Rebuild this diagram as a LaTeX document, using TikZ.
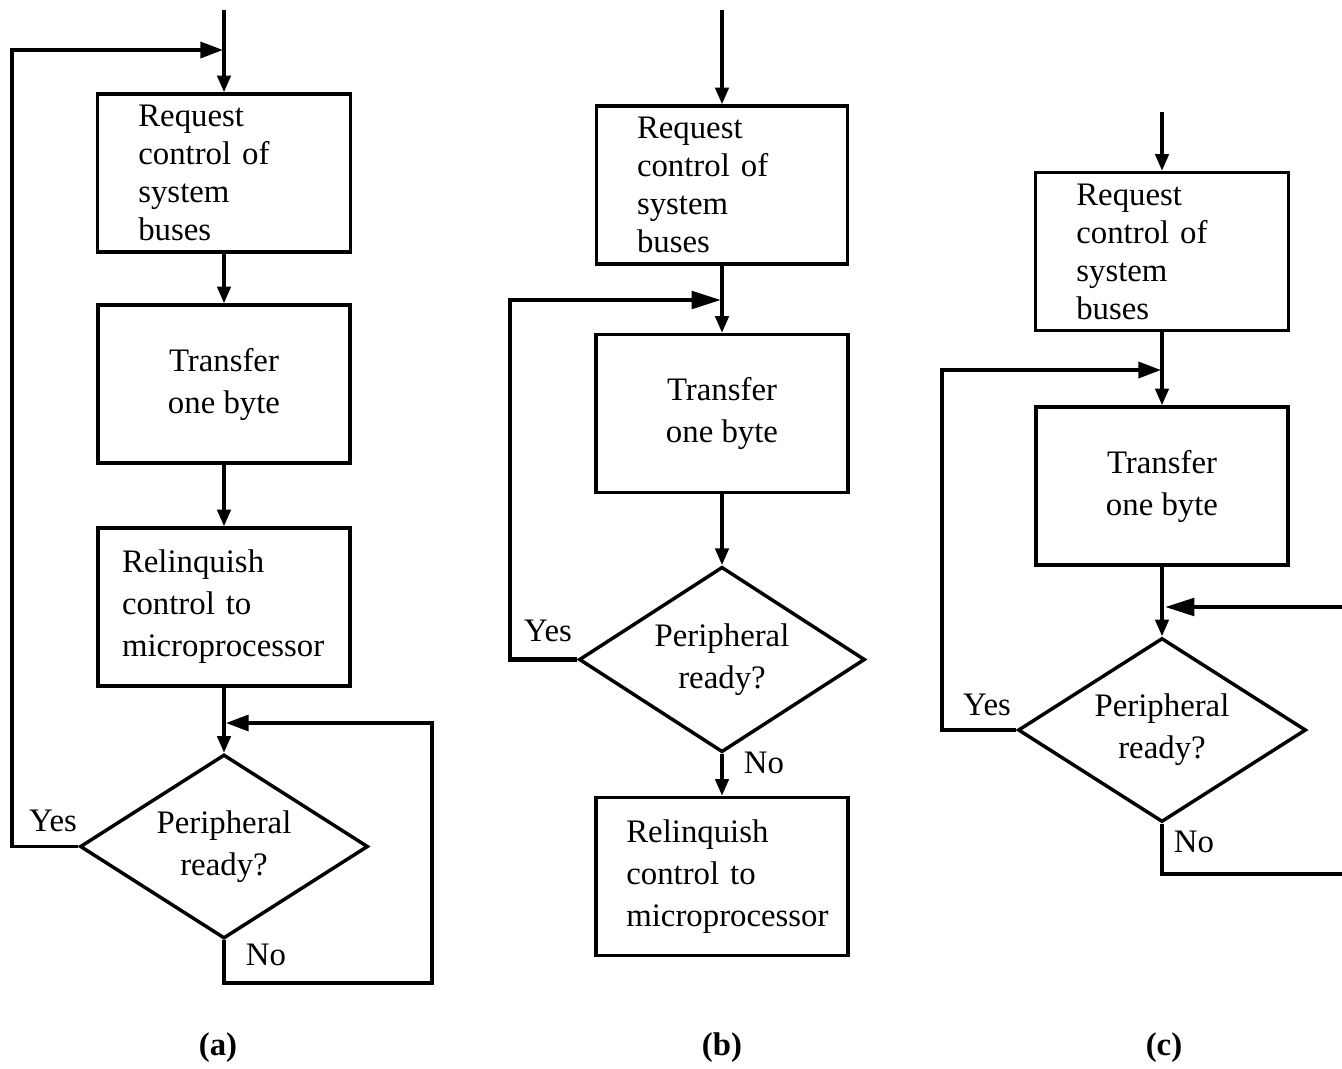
\documentclass[tikz,border=0pt]{standalone}
\usepackage{fontspec}
\setmainfont{Liberation Serif}
\usetikzlibrary{arrows.meta,shapes.geometric}
\begin{document}
\begin{tikzpicture}[x=0.75pt,y=-0.75pt,
  every node/.style={font=\fontsize{24.6}{31.5}\selectfont},
  box/.style={draw,line width=2.6pt,rectangle,minimum height=118.5pt,inner ysep=0pt},
  reqbox/.style={box,minimum width=189.5pt,inner xsep=30.5pt,text width=128.5pt,align=left,
    font=\fontsize{24.6}{28.5}\selectfont},
  xferbox/.style={box,minimum width=189pt,align=center},
  relbox/.style 2 args={box,minimum width=189pt,inner xsep=#1,text width=#2,align=left},
  decision/.style={draw,line width=2.6pt,diamond,aspect=1.57,inner sep=0pt,
    minimum width=216pt,minimum height=138pt,align=center},
  lbl/.style={inner sep=0pt},
  captext/.style={inner sep=0pt,font=\fontsize{24.6}{28}\selectfont\bfseries},
  flow/.style={line width=2.6pt,-{Triangle[length=12.5pt,width=10pt]}},
  back/.style={line width=2.6pt,-{Triangle[length=17pt,width=12pt]}},
  heavy/.style={line width=3.2pt,-{Triangle[length=22pt,width=13pt]}},
  heavywire/.style={line width=3.2pt}
]
\fill[white] (0,0) rectangle (1342,1068);
\useasboundingbox (0,0) rectangle (1342,1068);

% ---------------- (a) ----------------
\node[reqbox] (a1) at (224,173) {Request\\control of\\system\\buses};
\node[xferbox] (a2) at (224,384) {Transfer\\one byte};
\node[relbox={18pt}{153pt}] (a3) at (224,607) {Relinquish\\control to\\microprocessor};
\node[decision] (a4) at (224,846.5) {Peripheral\\ready?};
\coordinate (atop) at (224,10);
\coordinate (ajoin) at (223,50);
\coordinate (aleft) at (12,50);
\coordinate (ajoin2) at (226,723);
\coordinate (aright) at (432,983);
\draw[flow] (atop) -- (a1.north);
\draw[flow] (a1.south) -- (a2.north);
\draw[flow] (a2.south) -- (a3.north);
\draw[flow] (a3.south) -- (a4.north);
\draw[back] (a4.west) -| (aleft) -- (ajoin);
\draw[back] (a4.south) |- (aright) |- (ajoin2);
\node[lbl] (ayes) at (53,821) {Yes};
\node[lbl] (ano) at (266,955) {No};
\node[captext] (acap) at (218,1048) {(a)};

% ---------------- (b) ----------------
\node[reqbox,minimum width=188.5pt,text width=127.5pt] (b1) at (722,185) {Request\\control of\\system\\buses};
\node[xferbox] (b2) at (722,413.5) {Transfer\\one byte};
\node[decision,minimum width=214.5pt,minimum height=139pt] (b3) at (722,659.5) {Peripheral\\ready?};
\node[relbox={22.5pt}{143.5pt}] (b4) at (722,876.5) {Relinquish\\control to\\microprocessor};
\coordinate (btop) at (722,10);
\coordinate (bjoin) at (721,300);
\coordinate (bleft) at (510,300);
\draw[flow] (btop) -- (b1.north);
\draw[flow] (b1.south) -- (b2.north);
\draw[flow] (b2.south) -- (b3.north);
\draw[flow] (b3.south) -- (b4.north);
\draw[heavy] (b3.west) -| (bleft) -- (bjoin);
\node[lbl] (byes) at (548,631) {Yes};
\node[lbl] (bno) at (764,763) {No};
\node[captext] (bcap) at (722,1048) {(b)};

% ---------------- (c) ----------------
\node[reqbox] (c1) at (1162,251.5) {Request\\control of\\system\\buses};
\node[xferbox] (c2) at (1162,486) {Transfer\\one byte};
\node[decision] (c3) at (1162,730) {Peripheral\\ready?};
\coordinate (ctop) at (1162,112);
\coordinate (cjoin) at (1161,370);
\coordinate (cleft) at (942,370);
\coordinate (cjoin2) at (1165,607);
\coordinate (cedge1) at (1342,607);
\coordinate (cedge2) at (1342,874);
\draw[flow] (ctop) -- (c1.north);
\draw[flow] (c1.south) -- (c2.north);
\draw[flow] (c2.south) -- (c3.north);
\draw[back] (c3.west) -| (cleft) -- (cjoin);
\draw[heavy] (cedge1) -- (cjoin2);
\draw[heavywire] (c3.south) |- (cedge2);
\node[lbl] (cyes) at (987,705) {Yes};
\node[lbl] (cno) at (1194,842) {No};
\node[captext] (ccap) at (1164,1048) {(c)};
\end{tikzpicture}
\end{document}
